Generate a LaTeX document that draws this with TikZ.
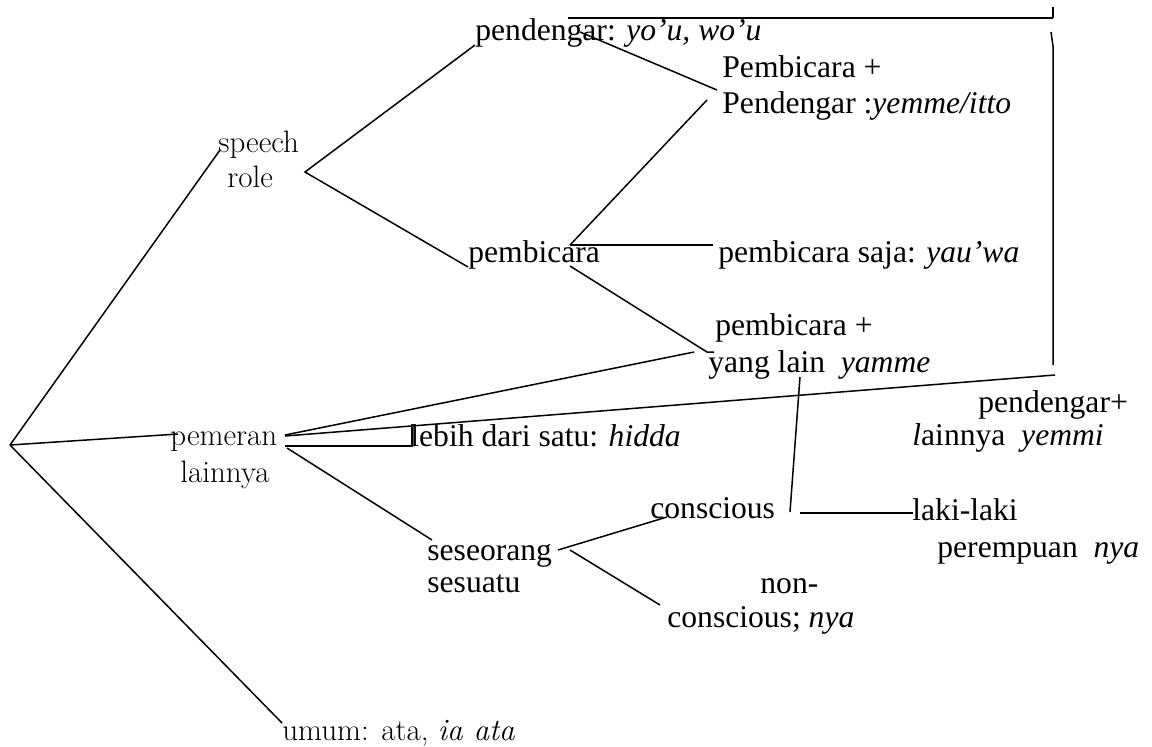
\documentclass[tikz,border=0pt]{standalone}
\usepackage{fontspec}
\newfontfamily\tnr{Liberation Serif}
\usepackage{tikz}
\usetikzlibrary{positioning}

\tikzset{
  lbl/.style={anchor=base west, inner sep=0pt, font=\tnr\fontsize{15.8}{18}\selectfont},
  lblm/.style={anchor=base west, inner sep=0pt, font=\fontsize{15.5}{18}\selectfont},
  branch/.style={line width=0.75pt}
}

\begin{document}
\begin{tikzpicture}[x=0.5pt,y=-0.5pt]
\useasboundingbox (0,0) rectangle (1152,746);
% branching points
  \path
    (10,445) coordinate (root)
    (220,150) coordinate (speechL)
    (178,434) coordinate (pmrL)
    (282,723) coordinate (umumL)
    (305,172) coordinate (srole)
    (475,45) coordinate (pdgL)
    (468,267) coordinate (pbcL)
    (580,32) coordinate (pdgR)
    (717,90) coordinate (pbpA)
    (707,100) coordinate (pbpB)
    (568,18) coordinate (topL)
    (1053,18) coordinate (topR)
    (1053,7) coordinate (tickT)
    (1051,32) coordinate (vTop)
    (1053,46) coordinate (vBend)
    (1053,365) coordinate (vBot)
    (570,245) coordinate (pbcR)
    (570,266) coordinate (pbcRb)
    (713,245) coordinate (sajaL)
    (707,352) coordinate (ylA)
    (714,352) coordinate (ylB)
    (694,352) coordinate (ylC)
    (285,435) coordinate (pmrA)
    (285,436) coordinate (pmrK)
    (285,446) coordinate (pmrB)
    (287,448) coordinate (pmrC)
    (1055,375) coordinate (kEnd)
    (412,446) coordinate (brkB)
    (412,427) coordinate (brkT)
    (432,540) coordinate (sesL)
    (558,550) coordinate (sesR)
    (570,550) coordinate (sesRb)
    (667,517) coordinate (consL)
    (660,605) coordinate (nonL)
    (800,377) coordinate (ylDown)
    (790,512) coordinate (consR)
    (800,513) coordinate (lakiA)
    (913,513) coordinate (lakiB)
  ;
% labels
\node[lblm] (speech) at (218,152) {speech};
\node[lblm] (role) at (227,187) {role};
\node[lblm] (pemeran) at (170,445) {pemeran};
\node[lblm] (lainnya) at (180,482) {lainnya};
\node[lblm] (umum) at (282,740) {umum: ata, \textit{ia ata}};
\node[lbl] (pendengar) at (475,40) {pendengar: \textit{yo’u, wo’u}};
\node[lbl] (pbpTop) at (722,77) {Pembicara +};
\node[lbl] (pbpBot) at (722,113) {Pendengar :\textit{yemme/itto}};
\node[lbl] (pembicara) at (468,262) {pembicara};
\node[lbl] (saja) at (718,262) {pembicara saja: \textit{yau’wa}};
\node[lbl] (pblTop) at (715,335) {pembicara +};
\node[lbl] (pblBot) at (708,372) {yang lain\ \ \textit{yamme}};
\node[lbl] (pdlTop) at (978,412) {pendengar+};
\node[lbl] (pdlBot) at (912,445) {\textit{l}ainnya\ \ \textit{yemmi}};
\node[lbl] (lebih) at (410,446) {lebih dari satu: \textit{hidda}};
\node[lbl] (conscious) at (650,518) {conscious};
\node[lbl] (laki) at (912,520) {laki-laki};
\node[lbl] (perempuan) at (937,557) {perempuan\ \ \textit{nya}};
\node[lbl] (seseorang) at (427,560) {seseorang};
\node[lbl] (sesuatu) at (427,592) {sesuatu};
\node[lbl] (nonTop) at (760,593) {non-};
\node[lbl] (nonBot) at (667,627) {conscious; \textit{nya}};
% branches
\draw[branch] (root) -- (speechL);
\draw[branch] (root) -- (pmrL);
\draw[branch] (root) -- (umumL);
\draw[branch] (pdgL) -- (srole) -- (pbcL);
\draw[branch] (pdgR) -- (pbpA);
\draw[branch] (pbcR) -- (pbpB);
\draw[branch] (pbcR) -- (sajaL);
\draw[branch] (pbcRb) -- (ylA) -- (ylB);
\draw[branch] (topL) -- (topR);
\draw[branch] (tickT) -- (topR);
\draw[branch] (vTop) -- (vBend) -- (vBot);
\draw[branch] (pmrA) -- (ylC);
\draw[branch] (pmrK) -- (kEnd);
\draw[branch] (pmrB) -- (brkB) -- (brkT);
\draw[branch] (pmrC) -- (sesL);
\draw[branch] (sesR) -- (consL);
\draw[branch] (sesRb) -- (nonL);
\draw[branch] (ylDown) -- (consR);
\draw[branch] (lakiA) -- (lakiB);
\end{tikzpicture}
\end{document}
